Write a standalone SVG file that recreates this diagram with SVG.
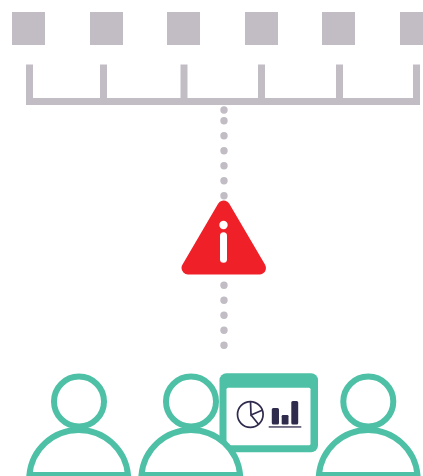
<svg xmlns="http://www.w3.org/2000/svg" width="423" height="476" viewBox="0 0 423 476">
<style>
.sq{fill:#c2bdc5}
.dot{fill:#c2bdc5}
.tick{fill:#c2bdc5}
.head,.body{fill:#fff;stroke:#4dc0a6;stroke-width:6}
.ink{fill:#2f2b4d}
.line{fill:none;stroke:#2f2b4d;stroke-width:1.700}
</style>
<rect width="423" height="476" fill="#fff"/>
<g id="servers">
<rect class="sq" x="12" y="12" width="33" height="33"/>
<rect class="sq" x="90" y="12" width="33" height="33"/>
<rect class="sq" x="167" y="12" width="33" height="33"/>
<rect class="sq" x="245" y="12" width="33" height="33"/>
<rect class="sq" x="322" y="12" width="33" height="33"/>
<rect class="sq" x="400" y="12" width="33" height="33"/>
</g>
<g id="connectors">
<rect class="tick" x="26" y="98" width="394" height="7"/>
<rect class="tick" x="26" y="64.500" width="7" height="40"/>
<rect class="tick" x="100" y="64.500" width="7" height="40"/>
<rect class="tick" x="180.500" y="64.500" width="7" height="40"/>
<rect class="tick" x="258" y="64.500" width="7" height="40"/>
<rect class="tick" x="336" y="64.500" width="7" height="40"/>
<rect class="tick" x="413" y="64.500" width="7" height="40"/>
<circle class="dot" cx="224" cy="110" r="3.700"/>
<circle class="dot" cx="224" cy="120.700" r="3.700"/>
<circle class="dot" cx="224" cy="135.700" r="3.700"/>
<circle class="dot" cx="224" cy="150.700" r="3.700"/>
<circle class="dot" cx="224" cy="165.700" r="3.700"/>
<circle class="dot" cx="224" cy="180.700" r="3.700"/>
<circle class="dot" cx="224" cy="195.700" r="3.700"/>
<circle class="dot" cx="224" cy="285.300" r="3.700"/>
<circle class="dot" cx="224" cy="300.300" r="3.700"/>
<circle class="dot" cx="224" cy="315.300" r="3.700"/>
<circle class="dot" cx="224" cy="330.300" r="3.700"/>
<circle class="dot" cx="224" cy="345.300" r="3.700"/>
</g>
<g id="warning">
<path d="M223.700 207 L259.500 268 H188 Z" fill="#ef2028" stroke="#ef2028" stroke-width="13" stroke-linejoin="round"/>
<circle cx="223.500" cy="225" r="4.200" fill="#fff"/>
<rect x="220" y="232.300" width="7" height="30.500" rx="3.500" fill="#fff"/>
</g>
<g id="person-left">
<path class="body" d="M29.400 475 A49.500 49.500 0 0 1 128 475 Z"/>
<circle class="head" cx="79" cy="401.500" r="25"/>
</g>
<g id="board">
<rect x="219.500" y="373.300" width="98.500" height="79" rx="7" fill="#4dc0a6"/>
<rect x="226.500" y="387.700" width="84" height="57.500" rx="1.500" fill="#fff"/>
</g>
<g id="person-middle">
<path class="body" d="M141.500 475 A49.500 49.500 0 0 1 240.100 475 Z"/>
<circle class="head" cx="191" cy="401.500" r="25"/>
</g>
<g id="chart">
<circle class="line" cx="250.300" cy="414.500" r="12.800"/>
<path class="line" d="M250.500 401.700 L251 415 L262.700 410 M251 415 L258.500 424.300"/>
<rect class="ink" x="271.800" y="408" width="7.200" height="16.500" rx="1.500"/>
<rect class="ink" x="281.700" y="415" width="6.800" height="9.500" rx="1.200"/>
<rect class="ink" x="291.300" y="401" width="6.900" height="23.500" rx="1.500"/>
<rect class="ink" x="268.700" y="426.300" width="32.600" height="1.300"/>
</g>
<g id="person-right">
<path class="body" d="M318.900 475 A49.500 49.500 0 0 1 417.500 475 Z"/>
<circle class="head" cx="368.300" cy="401.500" r="25"/>
</g>
</svg>
